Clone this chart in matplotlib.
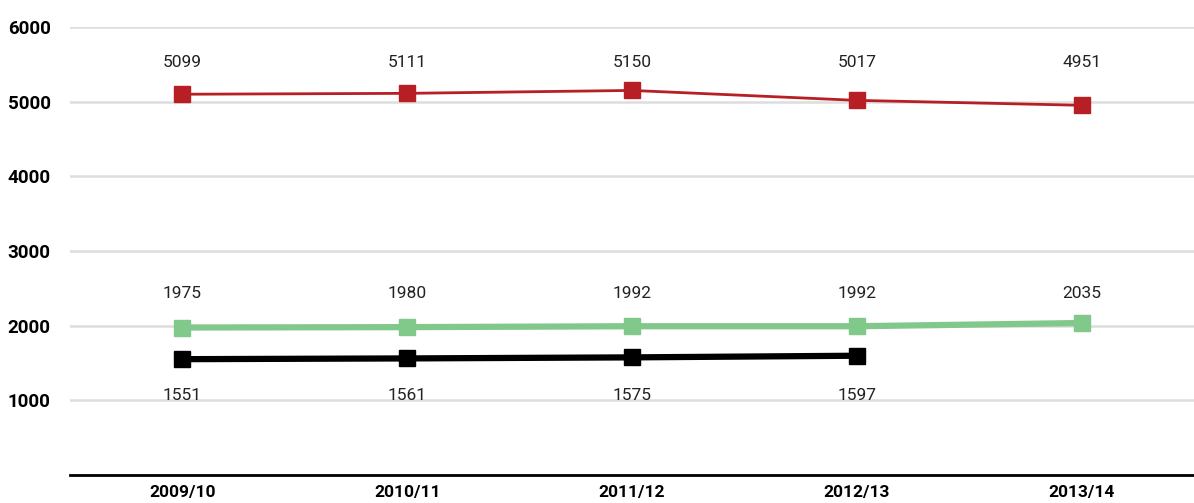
import numpy as np
import matplotlib.pyplot as plt

plt.rcParams['font.family'] = ['Roboto', 'DejaVu Sans']

seasons = ['2009/10', '2010/11', '2011/12', '2012/13', '2013/14']
red_vals = [5099, 5111, 5150, 5017, 4951]
green_vals = [1975, 1980, 1992, 1992, 2035]
black_vals = [1551, 1561, 1575, 1597]

fig = plt.figure(figsize=(11.94, 5.03), dpi=100)
ax = fig.add_axes([0.0586, 0.0557, 0.9414, 0.8907])

x = np.arange(len(seasons))

ax.plot(x, red_vals, color='#b81f25', lw=2, marker='s', ms=11, zorder=3)
ax.plot(x, green_vals, color='#80c98a', lw=4.5, marker='s', ms=11, zorder=3)
ax.plot(x[:len(black_vals)], black_vals, color='black', lw=4.5, marker='s', ms=11, zorder=3)

# value labels sit on fixed rows per series
for xi, v in zip(x, red_vals):
    ax.text(xi, 5520, str(v), ha='center', va='center', fontsize=12.5, color='#222222')
for xi, v in zip(x, green_vals):
    ax.text(xi, 2435, str(v), ha='center', va='center', fontsize=12.5, color='#222222')
for xi, v in zip(x, black_vals):
    ax.text(xi, 1070, str(v), ha='center', va='center', fontsize=12.5, color='#222222')

ax.set_xlim(-0.5, 4.5)
ax.set_ylim(0, 6000)
ax.set_yticks([1000, 2000, 3000, 4000, 5000, 6000])
ax.set_xticks(x)
ax.set_xticklabels(seasons, fontsize=12.5, fontweight='bold')
for lbl in ax.get_yticklabels():
    lbl.set_fontsize(13.5)
    lbl.set_fontweight('bold')
ax.grid(axis='y', color='#dddddd', lw=1.8)
ax.set_axisbelow(True)
ax.tick_params(length=0, pad=14, axis='y')
ax.tick_params(length=0, pad=7, axis='x')
for s in ['top', 'right', 'left']:
    ax.spines[s].set_visible(False)
ax.spines['bottom'].set_linewidth(2)
ax.spines['bottom'].set_color('black')

plt.savefig('out.png', dpi=100)
